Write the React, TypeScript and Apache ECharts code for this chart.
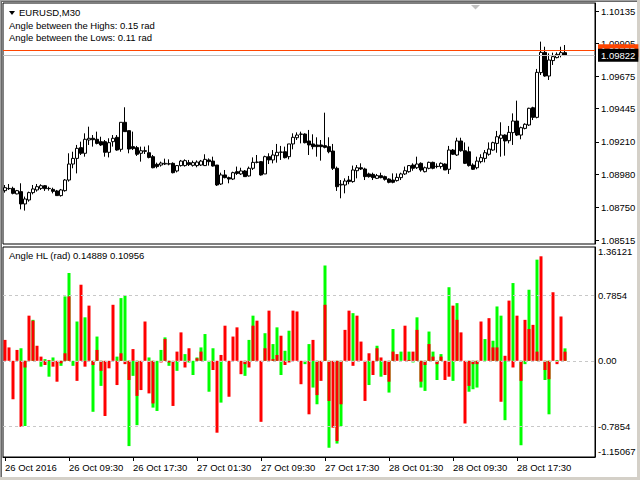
import React, { useEffect, useRef } from "react";
import * as echarts from "echarts";

const FONT = '"Liberation Sans", Arial, sans-serif';
const FS = 9.5;

// [open, close, low, high] for each M30 bar, EURUSD
const ohlc: [number, number, number, number][] = [
  [1.08866, 1.08887, 1.08852, 1.08906], [1.08882, 1.0888, 1.08871, 1.08913], [1.08882, 1.08847, 1.0884, 1.08894],
  [1.08843, 1.08866, 1.0884, 1.08871], [1.08859, 1.08772, 1.08734, 1.08918], [1.08772, 1.08807, 1.08725, 1.08824],
  [1.088, 1.08852, 1.08788, 1.08859], [1.08852, 1.08878, 1.0884, 1.08906], [1.08871, 1.08894, 1.08859, 1.08913],
  [1.08882, 1.08901, 1.08871, 1.08911], [1.08901, 1.0888, 1.08864, 1.08906], [1.08882, 1.0888, 1.08866, 1.08894],
  [1.08875, 1.08861, 1.08847, 1.08887], [1.08864, 1.08831, 1.08828, 1.08871], [1.08831, 1.08871, 1.08824, 1.08878],
  [1.08866, 1.08941, 1.08859, 1.08948], [1.08941, 1.09054, 1.0893, 1.0913], [1.09054, 1.09094, 1.09024, 1.09141],
  [1.09094, 1.09165, 1.08988, 1.09189], [1.0917, 1.0913, 1.09118, 1.09212], [1.0913, 1.09229, 1.09106, 1.09271],
  [1.09224, 1.09236, 1.09189, 1.09318], [1.09236, 1.09226, 1.09177, 1.09259], [1.09229, 1.092, 1.09193, 1.09283],
  [1.09212, 1.09189, 1.09182, 1.09247], [1.09212, 1.09137, 1.09106, 1.09224], [1.09137, 1.09205, 1.09101, 1.09236],
  [1.09212, 1.09236, 1.09177, 1.09259], [1.09243, 1.09153, 1.09148, 1.09259], [1.09158, 1.09349, 1.09141, 1.09349],
  [1.09349, 1.09283, 1.09283, 1.09455], [1.0929, 1.0916, 1.0913, 1.0929], [1.09177, 1.09163, 1.09153, 1.09283],
  [1.0917, 1.09123, 1.09111, 1.09182], [1.0913, 1.09148, 1.09071, 1.09177], [1.09148, 1.09144, 1.09125, 1.09177],
  [1.09134, 1.09101, 1.09094, 1.09186], [1.09106, 1.09028, 1.09024, 1.09118], [1.09052, 1.09036, 1.09024, 1.09064],
  [1.09047, 1.09061, 1.09036, 1.09071], [1.09054, 1.09059, 1.09047, 1.09092], [1.09056, 1.09054, 1.09045, 1.09087],
  [1.09059, 1.08993, 1.08988, 1.09066], [1.09005, 1.09043, 1.08995, 1.09047], [1.09043, 1.09075, 1.09036, 1.09083],
  [1.09043, 1.09078, 1.09036, 1.09087], [1.09064, 1.0905, 1.0904, 1.09083], [1.09045, 1.09064, 1.09036, 1.09078],
  [1.09043, 1.09068, 1.09031, 1.0908], [1.09047, 1.09075, 1.0904, 1.09083], [1.09043, 1.09087, 1.0904, 1.09123],
  [1.09083, 1.09071, 1.09043, 1.09094], [1.09075, 1.0904, 1.09036, 1.09106], [1.09047, 1.08906, 1.08899, 1.09047],
  [1.08913, 1.08977, 1.08906, 1.08993], [1.08977, 1.08958, 1.08953, 1.09012], [1.08958, 1.08948, 1.08918, 1.08965],
  [1.08948, 1.08993, 1.08941, 1.09], [1.09, 1.08988, 1.08977, 1.09036], [1.08984, 1.09005, 1.08977, 1.09028],
  [1.09005, 1.08965, 1.08965, 1.09012], [1.0897, 1.09024, 1.08965, 1.09036], [1.09024, 1.09066, 1.09012, 1.09101],
  [1.09066, 1.09068, 1.09059, 1.09118], [1.09071, 1.08977, 1.08972, 1.09075], [1.08984, 1.09106, 1.08984, 1.09113],
  [1.09106, 1.09083, 1.09054, 1.0913], [1.09083, 1.09118, 1.09059, 1.09153], [1.09113, 1.09137, 1.09064, 1.09196],
  [1.09137, 1.09139, 1.09083, 1.09182], [1.09141, 1.09099, 1.09094, 1.09177], [1.09106, 1.09196, 1.09087, 1.09196],
  [1.09196, 1.09243, 1.09158, 1.09271], [1.0924, 1.09259, 1.09224, 1.09278], [1.09264, 1.09266, 1.092, 1.09283],
  [1.09266, 1.09205, 1.092, 1.09271], [1.09217, 1.09189, 1.09118, 1.09295], [1.09196, 1.09177, 1.09158, 1.09264],
  [1.09189, 1.09177, 1.09106, 1.09243], [1.09189, 1.09177, 1.09078, 1.09224], [1.09184, 1.09172, 1.09165, 1.09417],
  [1.09177, 1.09141, 1.0913, 1.09243], [1.09146, 1.09024, 1.09012, 1.09196], [1.09024, 1.08894, 1.08864, 1.09036],
  [1.08906, 1.08911, 1.08812, 1.08941], [1.08906, 1.08934, 1.08847, 1.08953], [1.08941, 1.0893, 1.08911, 1.0897],
  [1.0893, 1.09012, 1.08922, 1.09043], [1.09007, 1.09028, 1.08953, 1.09047], [1.09028, 1.09019, 1.09012, 1.09059],
  [1.09019, 1.08965, 1.08941, 1.09028], [1.08984, 1.08965, 1.08958, 1.08993], [1.08981, 1.08958, 1.08941, 1.08993],
  [1.08953, 1.08972, 1.08948, 1.08984], [1.08972, 1.08958, 1.08953, 1.08993], [1.08965, 1.08946, 1.08937, 1.08972],
  [1.08948, 1.08925, 1.08918, 1.08953], [1.08941, 1.08925, 1.08918, 1.08988], [1.08937, 1.0896, 1.0893, 1.08988],
  [1.08958, 1.08984, 1.08941, 1.08993], [1.08984, 1.09007, 1.08977, 1.09036], [1.09, 1.09043, 1.08993, 1.09047],
  [1.09047, 1.09024, 1.09007, 1.09059], [1.09028, 1.09054, 1.09019, 1.09106], [1.09059, 1.09012, 1.09, 1.09066],
  [1.09, 1.09028, 1.08995, 1.09036], [1.09024, 1.09066, 1.09017, 1.09071], [1.09066, 1.09024, 1.09017, 1.09071],
  [1.09036, 1.09038, 1.09024, 1.09059], [1.09036, 1.09059, 1.09021, 1.09066], [1.09054, 1.09012, 1.09012, 1.09059],
  [1.09017, 1.09153, 1.08984, 1.09182], [1.09153, 1.09123, 1.09118, 1.0916], [1.09118, 1.09217, 1.09111, 1.0924],
  [1.09217, 1.09148, 1.09141, 1.0924], [1.09148, 1.09059, 1.09054, 1.09207], [1.09141, 1.09043, 1.09036, 1.09177],
  [1.09047, 1.09017, 1.09012, 1.09059], [1.09028, 1.09075, 1.09017, 1.09106], [1.09071, 1.09099, 1.09059, 1.09123],
  [1.09094, 1.09134, 1.09066, 1.09153], [1.09123, 1.0916, 1.09113, 1.09207], [1.09153, 1.09205, 1.09148, 1.09212],
  [1.092, 1.09247, 1.09134, 1.09288], [1.09236, 1.09259, 1.09106, 1.09349], [1.09259, 1.09217, 1.09113, 1.09264],
  [1.09219, 1.09278, 1.092, 1.09323], [1.09276, 1.09358, 1.09189, 1.09412], [1.09358, 1.09259, 1.09252, 1.09502],
  [1.09259, 1.09311, 1.09229, 1.09318], [1.09306, 1.09335, 1.09299, 1.09342], [1.0933, 1.09448, 1.09323, 1.09452],
  [1.09452, 1.09384, 1.09365, 1.09459], [1.09384, 1.09702, 1.09377, 1.09726], [1.097, 1.09843, 1.09683, 1.09919],
  [1.09843, 1.09676, 1.09671, 1.09883], [1.09676, 1.09789, 1.09648, 1.09836], [1.09785, 1.09813, 1.09754, 1.09841],
  [1.09806, 1.09829, 1.09801, 1.09843], [1.09822, 1.09841, 1.09808, 1.09883], [1.09841, 1.09822, 1.09817, 1.09895],
];

// Angle between the Highs (green) and the Lows (red), radians
const highsAngle: (number | null)[] = [
  null, null, null, null, 0.15, -0.78, null, 0.49, null, -0.07, 0.02, -0.19, 0.04, null, -0.06, 0.77, 1.05, -0.06, 0.47, null,
  0.52, null, -0.61, 0.29, -0.3, null, null, null, 0.05, 0.75, 0.78, -1.02, -0.18, -0.77, null, null, 0.04, -0.56, -0.6, 0.13,
  0.28, -0.06, null, -0.12, null, 0.08, -0.02, -0.17, 0.04, 0.16, 0.32, -0.37, 0.15, null, -0.5, null, null, null, null, null,
  -0.18, 0.25, 0.54, null, null, 0.33, null, 0.2, 0.4, -0.17, 0.12, 0.36, null, null, null, -0.04, 0.2, -0.32, -0.52, null,
  1.14, -1.04, null, -0.99, -0.78, null, null, 0.57, null, null, null, -0.29, null, 0.18, -0.19, null, -0.38, 0.38, null, 0.11,
  null, 0.11, -0.02, 0.52, -0.32, -0.36, 0.35, 0.11, -0.23, 0.08, null, 0.88, -0.24, 0.69, null, null, -0.37, -0.34, -0.32, null,
  0.26, null, 0.24, 0.65, 0.54, -0.71, null, 0.93, null, -1.01, -0.04, 0.85, null, 1.21, null, -0.23, -0.64, null, 0.01, null,
  0.14889,
];
const lowsAngle: (number | null)[] = [
  0.25, 0.16, -0.46, 0.13, -0.79, -0.08, 0.54, 0.48, 0.18, 0.05, -0.05, 0.01, -0.07, -0.25, -0.03, 0.09, 0.77, null, -0.24, 0.91,
  -0.07, 0.66, -0.05, 0.13, -0.12, -0.66, -0.09, 0.67, -0.29, 0.09, -0.04, -0.23, 0.14, -0.42, -0.35, 0.47, -0.39, -0.51, null, -0.02,
  0.26, -0.02, -0.54, 0.11, 0.34, -0.08, 0.15, null, 0.03, 0.11, null, null, -0.11, -0.86, 0.07, 0.42, -0.43, 0.29, 0.4, -0.16,
  -0.04, -0.08, 0.42, 0.48, -0.73, 0.15, 0.6, 0.02, 0.07, 0.3, -0.05, -0.02, 0.6, 0.59, -0.28, null, -0.64, 0.25, -0.41, -0.24,
  0.67, -0.48, -0.8, -0.96, -0.52, 0.37, 0.6, -0.06, 0.54, 0.23, -0.48, 0.09, -0.17, 0.15, 0.04, -0.17, -0.25, 0.11, 0.08, null,
  0.42, 0.01, 0.11, 0.37, -0.25, -0.05, 0.2, 0.05, -0.04, 0.05, -0.23, -0.19, 0.66, 0.49, 0.34, -0.75, -0.3, -0.04, -0.04, 0.47,
  null, 0.51, 0.16, 0.16, -0.49, 0.06, 0.72, -0.08, 0.54, -0.24, 0.49, 0.38, 0.43, 0.11, 1.25, -0.11, -0.22, 0.82, -0.04, 0.53,
  0.10956,
];

const symbolName = "EURUSD,M30";
const priceTicks = [1.08515, 1.0875, 1.0898, 1.0921, 1.09445, 1.09675, 1.09905, 1.10135];
const priceMin = 1.08489;
const priceMax = 1.10192;
const askPrice = 1.09855;
const bidPrice = 1.09822;
const angleMin = -1.15067;
const angleMax = 1.36121;
const angleLevels = [0.7854, 0, -0.7854];
const angleTickValues = [-1.15067, -0.7854, 0, 0.7854, 1.36121];
const angleTickText = ["-1.15067", "-0.7854", "0.00", "0.7854", "1.36121"];
const timeLabelIndex = [0, 16, 32, 48, 64, 80, 96, 112, 128];
const timeLabels = [
  "26 Oct 2016", "26 Oct 09:30", "26 Oct 17:30", "27 Oct 01:30", "27 Oct 09:30",
  "27 Oct 17:30", "28 Oct 01:30", "28 Oct 09:30", "28 Oct 17:30",
];
const slotCount = 148; // bars + empty chart shift on the right

export default function App() {
  const ref = useRef<HTMLDivElement>(null);
  useEffect(() => {
    if (!ref.current) return;
    const chart = echarts.init(ref.current, null, { renderer: "svg" });
    const cats = Array.from({ length: slotCount }, (_, i) => String(i));
    const isTimeTick = (i: number) => timeLabelIndex.indexOf(i) >= 0;
    const lastH = highsAngle[highsAngle.length - 1] as number;
    const lastL = lowsAngle[lowsAngle.length - 1] as number;
    const txt = { fill: "#000", fontSize: FS, fontFamily: FONT, verticalAlign: "middle" as const };
    const priceLabel = (bg: string, v: number) => ({
      show: true, position: "end", distance: 3, formatter: () => v.toFixed(5),
      color: "#fff", backgroundColor: bg, padding: [2, 3, 1, 3], fontSize: FS, fontFamily: FONT,
    });

    chart.setOption({
      animation: false,
      backgroundColor: "#fff",
      grid: [
        { left: 3, top: 3, width: 592, height: 241, show: true, borderColor: "#000", borderWidth: 1, backgroundColor: "#fff" },
        { left: 3, top: 247, width: 592, height: 210, show: true, borderColor: "#000", borderWidth: 1, backgroundColor: "#fff" },
      ],
      xAxis: [
        { type: "category", gridIndex: 0, data: cats, boundaryGap: true, axisLine: { show: false, onZero: false }, axisTick: { show: false }, axisLabel: { show: false }, splitLine: { show: false } },
        {
          type: "category", gridIndex: 1, data: cats, boundaryGap: true,
          axisLine: { show: true, onZero: false, lineStyle: { color: "#000" } },
          axisTick: { show: true, alignWithLabel: true, interval: (i: number) => isTimeTick(i), length: 4, lineStyle: { color: "#000" } },
          axisLabel: {
            interval: (i: number) => isTimeTick(i),
            formatter: (_v: string, i: number) => timeLabels[timeLabelIndex.indexOf(i)] ?? "",
            align: "left", margin: 5, color: "#000", fontSize: FS, fontFamily: FONT,
          },
          splitLine: { show: false },
        },
      ],
      yAxis: [
        {
          type: "value", gridIndex: 0, position: "right", min: priceMin, max: priceMax,
          axisLine: { show: true, lineStyle: { color: "#000" } },
          axisTick: { show: true, customValues: priceTicks, length: 4, lineStyle: { color: "#000" } },
          axisLabel: { customValues: priceTicks, formatter: (v: number) => v.toFixed(5), margin: 6, color: "#000", fontSize: FS, fontFamily: FONT },
          splitLine: { show: false },
        },
        {
          type: "value", gridIndex: 1, position: "right", min: angleMin, max: angleMax,
          axisLine: { show: true, lineStyle: { color: "#000" } },
          axisTick: { show: false },
          axisLabel: {
            customValues: angleTickValues, showMinLabel: true, showMaxLabel: true,
            formatter: (v: number) => {
              let k = 0;
              angleTickValues.forEach((a, j) => { if (Math.abs(a - v) < Math.abs(angleTickValues[k] - v)) k = j; });
              if (k === angleTickValues.length - 1) return "{mx|" + angleTickText[k] + "}";
              if (k === 0) return "{mn|" + angleTickText[k] + "}";
              return angleTickText[k];
            },
            margin: 3, color: "#000", fontSize: FS, fontFamily: FONT,
            rich: {
              mx: { fontSize: FS, fontFamily: FONT, color: "#000", padding: [9, 0, 0, 0] },
              mn: { fontSize: FS, fontFamily: FONT, color: "#000", padding: [0, 0, 12, 0] },
            },
          },
          splitLine: { show: false },
        },
      ],
      series: [
        {
          type: "candlestick", xAxisIndex: 0, yAxisIndex: 0, data: ohlc, barWidth: 3,
          itemStyle: { color: "#fff", color0: "#000", borderColor: "#000", borderColor0: "#000", borderWidth: 1 },
        },
        {
          type: "line", name: "Ask", xAxisIndex: 0, yAxisIndex: 0, data: [], symbol: "none",
          markLine: {
            silent: true, symbol: ["none", "none"], animation: false, precision: 5,
            lineStyle: { color: "#ff4500", type: "solid", width: 1 },
            label: priceLabel("#ff4500", askPrice),
            data: [{ yAxis: askPrice }],
          },
        },
        {
          type: "line", name: "Bid", xAxisIndex: 0, yAxisIndex: 0, data: [], symbol: "none",
          markLine: {
            silent: true, symbol: ["none", "none"], animation: false, precision: 5,
            lineStyle: { color: "#c0c0c0", type: "solid", width: 1 },
            label: priceLabel("#000", bidPrice),
            data: [{ yAxis: bidPrice }],
          },
        },
        {
          type: "bar", name: "Highs", xAxisIndex: 1, yAxisIndex: 1, data: highsAngle, barWidth: 3, barGap: "-100%",
          itemStyle: { color: "#00ff00" },
          markLine: {
            silent: true, symbol: ["none", "none"], animation: false, label: { show: false }, precision: 5,
            lineStyle: { color: "#c8c8c8", type: [3, 3], width: 1 },
            data: angleLevels.map((v) => ({ yAxis: v })),
          },
        },
        {
          type: "bar", name: "Lows", xAxisIndex: 1, yAxisIndex: 1, data: lowsAngle, barWidth: 3, barGap: "-100%",
          itemStyle: { color: "#ff0000" },
        },
      ],
      graphic: [
        { type: "rect", shape: { x: 0, y: 0, width: 1, height: 480 }, style: { fill: "#a0a0a0" }, silent: true },
        { type: "rect", shape: { x: 1, y: 0, width: 1, height: 480 }, style: { fill: "#696969" }, silent: true },
        { type: "rect", shape: { x: 0, y: 0, width: 640, height: 1 }, style: { fill: "#a0a0a0" }, silent: true },
        { type: "rect", shape: { x: 1, y: 1, width: 639, height: 1 }, style: { fill: "#696969" }, silent: true },
        { type: "rect", shape: { x: 637, y: 0, width: 3, height: 480 }, style: { fill: "#d4d0c8" }, silent: true },
        { type: "rect", shape: { x: 0, y: 477, width: 640, height: 3 }, style: { fill: "#d4d0c8" }, silent: true },
        { type: "polygon", shape: { points: [[9, 11], [15, 11], [12, 15]] }, style: { fill: "#000" }, silent: true },
        { type: "polygon", shape: { points: [[471, 5], [480, 5], [475.5, 9.5]] }, style: { fill: "#c0c0c0" }, silent: true },
        { type: "text", x: 19, y: 12.5, style: { ...txt, text: symbolName } },
        { type: "text", x: 9, y: 25, style: { ...txt, text: "Angle between the Highs: " + lastH.toFixed(2) + " rad" } },
        { type: "text", x: 9, y: 37.5, style: { ...txt, text: "Angle between the Lows: " + lastL.toFixed(2) + " rad" } },
        { type: "text", x: 9, y: 255.5, style: { ...txt, text: "Angle HL (rad) " + lastH.toFixed(5) + " " + lastL.toFixed(5) } },
      ],
    });
    return () => chart.dispose();
  }, []);
  return <div ref={ref} style={{ position: "fixed", left: 0, top: 0, width: 640, height: 480 }} />;
}
